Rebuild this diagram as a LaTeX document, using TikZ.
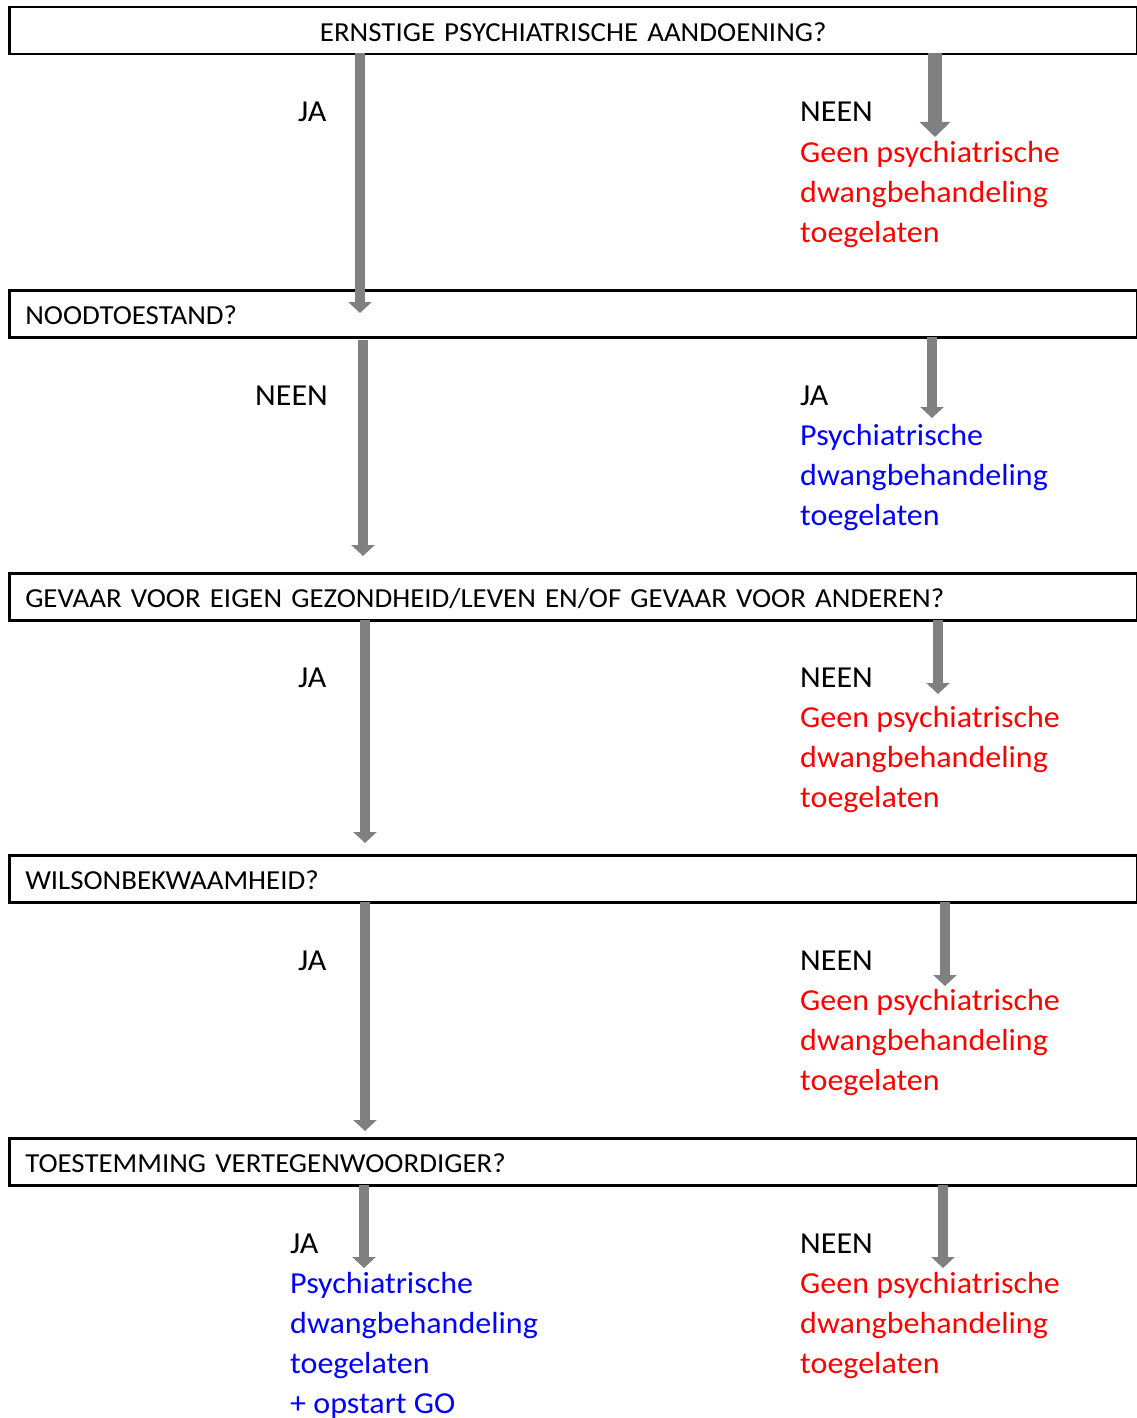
\documentclass[tikz,border=0pt]{standalone}
\usepackage{fontspec}
\setmainfont{Carlito}[FakeStretch=1.05]
\usetikzlibrary{arrows.meta}
\definecolor{arrgray}{RGB}{128,128,128}
\definecolor{myred}{RGB}{255,0,0}
\definecolor{myblue}{RGB}{0,0,255}
\begin{document}
\begin{tikzpicture}[x=1pt,y=-1pt,
  box/.style={draw=black,line width=2.5pt,minimum width=1128pt,minimum height=47pt,
    inner xsep=16pt,inner ysep=0pt,text height=22pt,text depth=0pt,anchor=north west,
    font=\fontsize{27.5}{33}\selectfont},
  lbl/.style={anchor=base west,inner sep=0pt,font=\fontsize{30.5}{40}\selectfont},
  redt/.style={lbl,text=myred},
  bluet/.style={lbl,text=myblue},
  garrow/.style={draw=arrgray,line width=10pt,-{Triangle[width=23pt,length=11pt]}},
  garrowb/.style={draw=arrgray,line width=14pt,-{Triangle[width=30pt,length=15pt]}}
]
\useasboundingbox (0,0) rectangle (1137,1418);
% boxes
\node[box,text width=1096pt,align=center] (b1) at (8,6) {ERNSTIGE PSYCHIATRISCHE AANDOENING?};
\node[box,text width=1096pt,align=left] (b2) at (8,289) {NOODTOESTAND?};
\node[box,text width=1096pt,align=left] (b3) at (8,572) {GEVAAR VOOR EIGEN GEZONDHEID/LEVEN EN/OF GEVAAR VOOR ANDEREN?};
\node[box,text width=1096pt,align=left] (b4) at (8,854) {WILSONBEKWAAMHEID?};
\node[box,text width=1096pt,align=left] (b5) at (8,1137) {TOESTEMMING VERTEGENWOORDIGER?};
% arrow coordinates
\coordinate (a1ls) at (360,53);  \coordinate (a1le) at (360,313);
\coordinate (a1rs) at (935,53);  \coordinate (a1re) at (935,137);
\coordinate (a2ls) at (363,340); \coordinate (a2le) at (363,556);
\coordinate (a2rs) at (932,337); \coordinate (a2re) at (932,418);
\coordinate (a3ls) at (365,620); \coordinate (a3le) at (365,843);
\coordinate (a3rs) at (938,620); \coordinate (a3re) at (938,694);
\coordinate (a4ls) at (365,902); \coordinate (a4le) at (365,1131);
\coordinate (a4rs) at (945,902); \coordinate (a4re) at (945,986);
\coordinate (a5ls) at (364,1185); \coordinate (a5le) at (364,1268);
\coordinate (a5rs) at (943,1185); \coordinate (a5re) at (943,1268);
\draw[garrow] (a1ls) -- (a1le);
\draw[garrowb] (a1rs) -- (a1re);
\draw[garrow] (a2ls) -- (a2le);
\draw[garrow] (a2rs) -- (a2re);
\draw[garrow] (a3ls) -- (a3le);
\draw[garrow] (a3rs) -- (a3re);
\draw[garrow] (a4ls) -- (a4le);
\draw[garrow] (a4rs) -- (a4re);
\draw[garrow] (a5ls) -- (a5le);
\draw[garrow] (a5rs) -- (a5re);
% row 1
\node[lbl] (t1l) at (298,122) {JA};
\node[lbl] (t1r) at (800,122) {NEEN};
\node[redt] (t1r1) at (800,162) {Geen psychiatrische};
\node[redt] (t1r2) at (800,202) {dwangbehandeling};
\node[redt] (t1r3) at (800,242) {toegelaten};
% row 2
\node[lbl] (t2l) at (255,405) {NEEN};
\node[lbl] (t2r) at (800,405) {JA};
\node[bluet] (t2r1) at (800,445) {Psychiatrische};
\node[bluet] (t2r2) at (800,485) {dwangbehandeling};
\node[bluet] (t2r3) at (800,525) {toegelaten};
% row 3
\node[lbl] (t3l) at (298,687) {JA};
\node[lbl] (t3r) at (800,687) {NEEN};
\node[redt] (t3r1) at (800,727) {Geen psychiatrische};
\node[redt] (t3r2) at (800,767) {dwangbehandeling};
\node[redt] (t3r3) at (800,807) {toegelaten};
% row 4
\node[lbl] (t4l) at (298,970) {JA};
\node[lbl] (t4r) at (800,970) {NEEN};
\node[redt] (t4r1) at (800,1010) {Geen psychiatrische};
\node[redt] (t4r2) at (800,1050) {dwangbehandeling};
\node[redt] (t4r3) at (800,1090) {toegelaten};
% row 5
\node[lbl] (t5l) at (290,1253) {JA};
\node[bluet] (t5l1) at (290,1293) {Psychiatrische};
\node[bluet] (t5l2) at (290,1333) {dwangbehandeling};
\node[bluet] (t5l3) at (290,1373) {toegelaten};
\node[bluet] (t5l4) at (290,1413) {+ opstart GO};
\node[lbl] (t5r) at (800,1253) {NEEN};
\node[redt] (t5r1) at (800,1293) {Geen psychiatrische};
\node[redt] (t5r2) at (800,1333) {dwangbehandeling};
\node[redt] (t5r3) at (800,1373) {toegelaten};
\end{tikzpicture}
\end{document}
